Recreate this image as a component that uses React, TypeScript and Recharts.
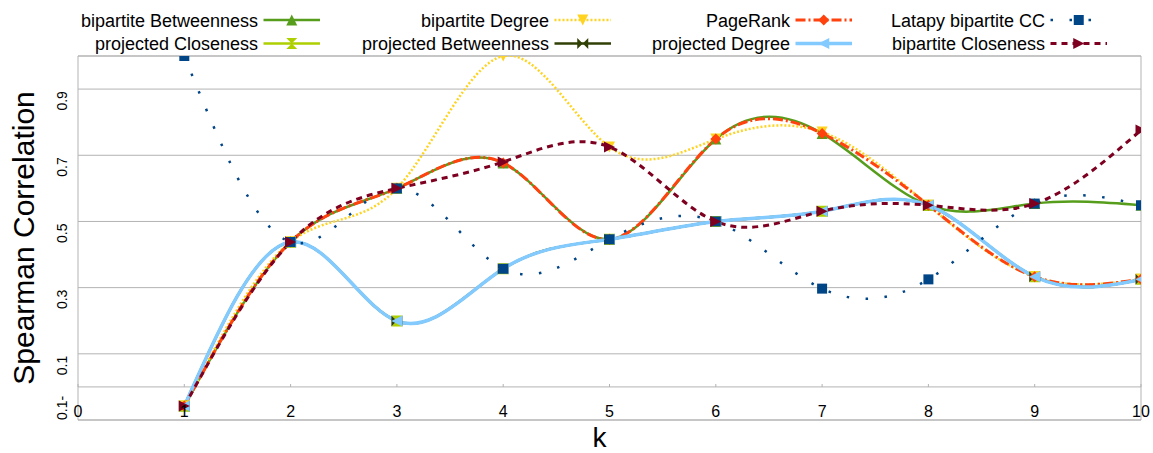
import React from 'react';
import { LineChart, Line, XAxis, YAxis, CartesianGrid, ReferenceLine, ReferenceArea, Label } from 'recharts';

// ---- data ----
const kValues = [1, 2, 3, 4, 5, 6, 7, 8, 9, 10];
const bipartiteBetweenness = [-0.058, 0.438, 0.6, 0.677, 0.446, 0.749, 0.766, 0.549, 0.554, 0.549];
const projectedCloseness = [-0.058, 0.438, 0.199, 0.357, 0.446, 0.5, 0.531, 0.549, 0.333, 0.325];
const bipartiteDegree = [-0.058, 0.438, 0.6, 1.0, 0.725, 0.749, 0.77, 0.549, 0.333, 0.325];
const projectedBetweenness = [-0.058, 0.438, 0.199, 0.357, 0.446, 0.5, 0.531, 0.549, 0.333, 0.325];
const pageRank = [-0.058, 0.438, 0.6, 0.677, 0.446, 0.749, 0.766, 0.549, 0.333, 0.325];
const projectedDegree = [-0.058, 0.438, 0.199, 0.357, 0.446, 0.5, 0.531, 0.549, 0.333, 0.325];
const latapyCC = [1.0, 0.438, 0.6, 0.357, 0.446, 0.5, 0.297, 0.325, 0.554, 0.549];
const bipartiteCloseness = [-0.058, 0.438, 0.6, 0.68, 0.725, 0.5, 0.531, 0.549, 0.554, 0.776];

const xTicks = [0, 1, 2, 3, 4, 5, 6, 7, 8, 9, 10];
const yTicks = [-0.1, 0.1, 0.3, 0.5, 0.7, 0.9];
const yTickLabels = ['0.1-', '0.1', '0.3', '0.5', '0.7', '0.9'];

type Shape = 'triUp' | 'hourglass' | 'triDown' | 'bowtie' | 'diamond' | 'triLeft' | 'square' | 'triRight';

interface SeriesCfg {
  key: string;
  name: string;
  values: number[];
  color: string;
  shape: Shape;
  width: number;
  dash?: string;
}

const series: SeriesCfg[] = [
  { key: 'bB', name: 'bipartite Betweenness', values: bipartiteBetweenness, color: '#579d1c', shape: 'triUp', width: 2.5 },
  { key: 'pC', name: 'projected Closeness', values: projectedCloseness, color: '#aecf00', shape: 'hourglass', width: 2.5 },
  { key: 'bD', name: 'bipartite Degree', values: bipartiteDegree, color: '#ffd320', shape: 'triDown', width: 2.5, dash: '2 2' },
  { key: 'pB', name: 'projected Betweenness', values: projectedBetweenness, color: '#314004', shape: 'bowtie', width: 2.5 },
  { key: 'pr', name: 'PageRank', values: pageRank, color: '#ff420e', shape: 'diamond', width: 3, dash: '10 3 2 3' },
  { key: 'pD', name: 'projected Degree', values: projectedDegree, color: '#83caff', shape: 'triLeft', width: 3.5 },
  { key: 'la', name: 'Latapy bipartite CC', values: latapyCC, color: '#004586', shape: 'square', width: 2.5, dash: '2.5 16.5' },
  { key: 'bC', name: 'bipartite Closeness', values: bipartiteCloseness, color: '#7e0021', shape: 'triRight', width: 3, dash: '6 5' },
];

const data = kValues.map((k, i) => {
  const row: Record<string, number> = { k };
  series.forEach((s) => {
    row[s.key] = s.values[i];
  });
  return row;
});

const FONT = '"Liberation Sans", Arial, sans-serif';
const GRID = '#b3b3b3';

function MarkerShape({ shape, cx, cy, color }: { shape: Shape; cx: number; cy: number; color: string }) {
  const s = 5.5;
  let d = '';
  switch (shape) {
    case 'triUp':
      d = `M${cx},${cy - s}L${cx + s},${cy + s}L${cx - s},${cy + s}Z`;
      break;
    case 'triDown':
      d = `M${cx - s},${cy - s}L${cx + s},${cy - s}L${cx},${cy + s}Z`;
      break;
    case 'triLeft':
      d = `M${cx - s},${cy}L${cx + s},${cy - s}L${cx + s},${cy + s}Z`;
      break;
    case 'triRight':
      d = `M${cx + s},${cy}L${cx - s},${cy - s}L${cx - s},${cy + s}Z`;
      break;
    case 'hourglass':
      d = `M${cx - s},${cy - s}L${cx + s},${cy - s}L${cx - s},${cy + s}L${cx + s},${cy + s}Z`;
      break;
    case 'bowtie':
      d = `M${cx - s},${cy - s}L${cx + s},${cy + s}L${cx + s},${cy - s}L${cx - s},${cy + s}Z`;
      break;
    case 'diamond':
      d = `M${cx},${cy - s}L${cx + s},${cy}L${cx},${cy + s}L${cx - s},${cy}Z`;
      break;
    case 'square':
      d = `M${cx - 5},${cy - 5}h10v10h-10Z`;
      break;
  }
  return <path d={d} fill={color} stroke="none" />;
}

const XTick = (props: any) => {
  const { x, y, payload } = props;
  return (
    <g>
      <line x1={x} x2={x} y1={y - 36} y2={y - 33} stroke={GRID} strokeWidth={1} />
      <text x={x} y={y - 3} textAnchor="middle" fontSize={16} fontFamily={FONT} fill="#000">
        {payload.value}
      </text>
    </g>
  );
};

const YTick = (props: any) => {
  const { x, y, payload, index } = props;
  const neg = payload.value < 0;
  const tx = x - 11;
  const ty = neg ? y : y + 2;
  return (
    <text
      x={tx}
      y={ty}
      transform={`rotate(-90 ${tx} ${ty})`}
      textAnchor={neg ? 'start' : 'end'}
      fontSize={14}
      fontFamily={FONT}
      fill="#000"
    >
      {yTickLabels[yTicks.indexOf(payload.value)] ?? yTickLabels[index]}
    </text>
  );
};

const YTitle = (props: any) => {
  const vb = props.viewBox || { x: 0, y: 56, width: 78, height: 364 };
  const x = vb.x + 34;
  const y = vb.y + vb.height / 2;
  return (
    <text x={x} y={y} transform={`rotate(-90 ${x} ${y})`} textAnchor="middle" fontSize={30} fontFamily={FONT} fill="#000">
      Spearman Correlation
    </text>
  );
};

const XTitle = (props: any) => {
  const vb = props.viewBox || { x: 78, y: 420, width: 1063, height: 33 };
  return (
    <text x={vb.x + vb.width / 2 - 10} y={vb.y + 27} textAnchor="middle" fontSize={28} fontFamily={FONT} fill="#000">
      k
    </text>
  );
};

// legend layout (styling only)
const legendColRight = [258, 549, 790, 1045];
const legendRowY = [20, 43.5];

function LegendOverlay() {
  return (
    <svg width={1153} height={56} style={{ position: 'absolute', left: 0, top: 0, pointerEvents: 'none' }}>
      {series.map((s, i) => {
        const col = Math.floor(i / 2);
        const row = i % 2;
        const right = legendColRight[col];
        const y = legendRowY[row];
        const x1 = right + 5.5;
        const x2 = x1 + 56.5;
        return (
          <g key={s.key}>
            <text x={right} y={y + 6.5} textAnchor="end" fontSize={18} fontFamily={FONT} fill="#000">
              {s.name}
            </text>
            <line x1={x1} x2={x2} y1={y} y2={y} stroke={s.color} strokeWidth={s.width} strokeDasharray={s.dash} />
            <MarkerShape shape={s.shape} cx={(x1 + x2) / 2} cy={y} color={s.color} />
          </g>
        );
      })}
    </svg>
  );
}

export default function App() {
  return (
    <div style={{ position: 'absolute', left: 0, top: 0, width: 1153, height: 453, background: '#fff' }}>
      <LineChart width={1153} height={453} data={data} margin={{ top: 56, right: 12, bottom: 0, left: 0 }}>
        <CartesianGrid horizontal vertical={false} stroke={GRID} strokeWidth={1} />
        <ReferenceArea x1={0} x2={10} y1={-0.1} y2={1} fill="none" stroke={GRID} strokeWidth={1} ifOverflow="extendDomain" />
        <ReferenceLine y={0} stroke={GRID} strokeWidth={1} />
        <XAxis
          type="number"
          dataKey="k"
          domain={[0, 10]}
          ticks={xTicks}
          height={33}
          axisLine={false}
          tickLine={false}
          tickSize={0}
          tickMargin={0}
          tick={(p: any) => <XTick {...p} />}
          interval={0}
          allowDataOverflow
        >
          <Label content={(p: any) => <XTitle {...p} />} />
        </XAxis>
        <YAxis
          type="number"
          domain={[-0.1, 1]}
          ticks={yTicks}
          width={78}
          axisLine={false}
          tickLine={false}
          tickSize={0}
          tickMargin={0}
          tick={(p: any) => <YTick {...p} />}
          interval={0}
          allowDataOverflow
        >
          <Label content={(p: any) => <YTitle {...p} />} />
        </YAxis>
        {series.map((s) => (
          <Line
            key={s.key}
            type="natural"
            dataKey={s.key}
            name={s.name}
            stroke={s.color}
            strokeWidth={s.width}
            strokeDasharray={s.dash}
            isAnimationActive={false}
            activeDot={false}
            dot={(p: any) => (
              <MarkerShape key={`${s.key}-${p.index}`} shape={s.shape} cx={p.cx} cy={p.cy} color={s.color} />
            )}
          />
        ))}
      </LineChart>
      <LegendOverlay />
    </div>
  );
}
